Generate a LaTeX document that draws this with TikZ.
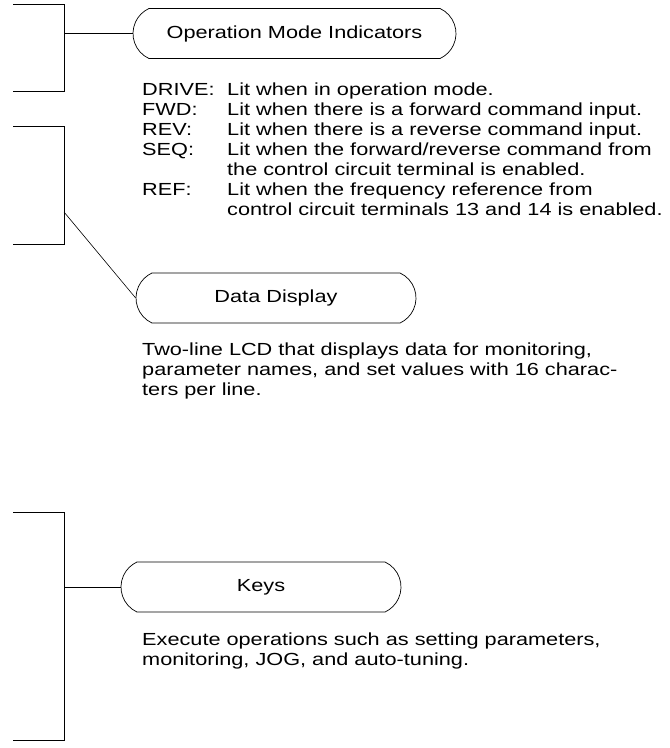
\documentclass[tikz,border=0pt]{standalone}
\usepackage{fontspec}
\setmainfont{Liberation Sans}[FakeStretch=1.24]
\usetikzlibrary{shapes.misc}

\tikzset{
  tag/.style={draw, line width=0.7pt, rounded rectangle, rounded rectangle arc length=130,
    minimum height=50pt, inner sep=0pt, font=\fontsize{17.5}{20}\selectfont},
  note/.style={anchor=north west, align=left, inner sep=0pt, font=\fontsize{17.5}{20}\selectfont},
  bracket/.style={line width=0.7pt},
  lead/.style={line width=0.6pt}
}

\begin{document}
\begin{tikzpicture}[x=1pt, y=-1pt]
  %%%%% START %%%%%
  \useasboundingbox (0,0) rectangle (670,748);

  % brackets on the left
  \draw[bracket] (13,4) -- (64,4) -- (64,91) -- (13,91);
  \draw[bracket] (13,126) -- (64,126) -- (64,244) -- (13,244);
  \draw[bracket] (13,512) -- (64,512) -- (64,740) -- (13,740);

  % labels
  \node[tag, minimum width=323pt] (opmode) at (294.5,33.5) {Operation Mode Indicators};
  \node[tag, minimum width=280pt] (display) at (276,298) {Data Display};
  \node[tag, minimum width=280pt] (keys) at (261,587) {Keys};

  % leader lines
  \coordinate (lead1) at (64,33.5);
  \coordinate (lead2) at (64,212);
  \coordinate (lead3) at (64,587);
  \draw[lead] (lead1) -- (opmode.west);
  \draw[lead] (lead2) -- (display.west);
  \draw[lead] (lead3) -- (keys.west);

  % descriptions
  \node[note] (leds) at (142,81) {%
    \begin{tabular}{@{}p{85pt}@{}l@{}}
      DRIVE: & Lit when in operation mode.\\
      FWD:   & Lit when there is a forward command input.\\
      REV:   & Lit when there is a reverse command input.\\
      SEQ:   & Lit when the forward/reverse command from\\
             & the control circuit terminal is enabled.\\
      REF:   & Lit when the frequency reference from\\
             & control circuit terminals 13 and 14 is enabled.
    \end{tabular}};
  \node[note] (lcd) at (142,343) {Two-line LCD that displays data for monitoring,\\
    parameter names, and set values with 16 charac-\\ters per line.};
  \node[note] (keytext) at (142,633) {Execute operations such as setting parameters,\\
    monitoring, JOG, and auto-tuning.};

  %%%%% END %%%%%
\end{tikzpicture}
\end{document}
